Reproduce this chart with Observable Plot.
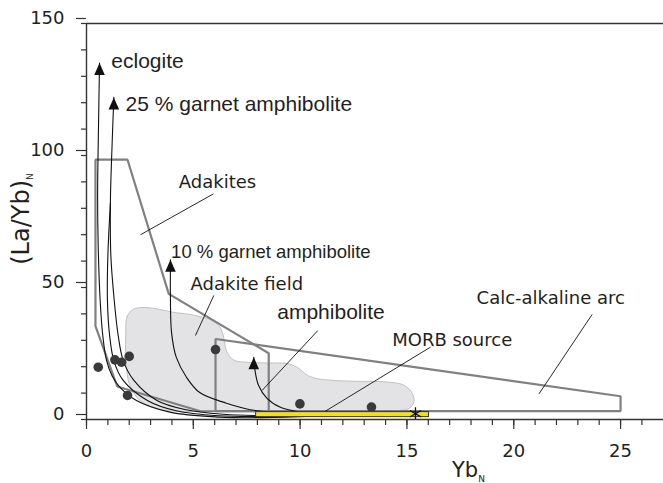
<!DOCTYPE html>
<html><head><meta charset="utf-8">
<script src="https://cdn.jsdelivr.net/npm/d3@7"></script>
<script src="https://cdn.jsdelivr.net/npm/@observablehq/plot@0.6"></script>
<style>body{margin:0;background:#fff} svg{display:block}</style>
</head><body><div id="chart"></div>
<script>
// ---- tick values ----
const xMinorTicks = d3.range(0, 27);
const xMajorTicks = [0, 5, 10, 15, 20, 25];
const yMinorTicks = d3.range(0, 151, 10);
const yMajorTicks = [0, 50, 100, 150];

// ---- regions (YbN, (La/Yb)N) ----
const adakites = [[0.42,98.4],[1.92,98.4],[3.85,47.6],[8.53,25.1],[8.53,3.1],[5.3,3.2],[1.44,12.5],[0.42,35.4]];
const calcAlkaline = [[6.04,30.5],[25,8.8],[25,3.2],[6.04,3.2]];
const adakiteField = [[1.84,33],[1.9,39],[2.2,41.8],[2.7,42.4],[3.3,41.9],[4.06,40.6],[4.68,40],[5.3,39],[5.8,37.8],
  [6.2,35.5],[6.4,32],[6.5,27.4],[6.67,24.2],[6.95,22.3],[7.5,21.7],[8.46,21.4],[9.4,21.2],[9.86,19.8],
  [10.33,16.8],[10.8,15.5],[11.4,14.9],[12.4,14.5],[14.08,14.2],[14.86,13],[15.25,9.9],[15.33,6.6],[15.1,4.2],
  [14.4,3.3],[10,3.1],[6,3.1],[3.9,3.3],[3.1,4.6],[2.5,7.2],[2.05,12.5],[1.86,20]];

// ---- melting curves ----
const eclogite = [[0.61,135],[0.56,110],[0.52,85],[0.55,65],[0.64,45],[0.76,32],[0.94,22.3],[1.2,16.5],[1.56,12.3],[2.34,7.2],[3.9,2.8],[6.24,0.9],[8,0.7],[11,1.3],[15.4,2.2]];
const garnet25 = [[1.28,122],[1.18,100],[1.12,83],[1.14,62],[1.3,45],[1.48,32],[1.72,22.3],[2.2,15],[3.3,7.2],[4.6,3.8],[6.4,2],[8,1.5],[11,1.8],[15.4,2.2]];
const branch = [[1.12,82],[1.0,62],[0.98,45],[1.08,32],[1.28,22.3],[1.7,15],[2.85,7.2],[4.2,3.3],[6.2,1.4],[8,1.1],[11,1.5],[15.4,2.2]];
const garnet10 = [[3.93,60.5],[3.93,45],[3.98,33],[4.2,23.6],[4.68,16],[5.3,10.2],[6.5,6.3],[7.9,3.4],[11,2.3],[15.4,2.2]];
const amphibolite = [[7.83,23.6],[7.88,19],[8.05,13],[8.45,8],[9.1,4.5],[9.9,3],[11,2.4],[15.4,2.2]];
const curves = [eclogite, garnet25, branch, garnet10, amphibolite];
const arrowTips = [eclogite[0], garnet25[0], garnet10[0], amphibolite[0]];

// ---- samples ----
const sampleX = [0.55,1.33,1.64,2.0,1.92,6.04,9.99,13.34];
const sampleY = [19.8,22.6,21.7,23.9,9.1,26.5,5.9,4.7];

// ---- MORB source ----
const morbBar = {x1: [7.94], x2: [16.03], y1: [0.9], y2: [2.8]};
const morbPoint = [[15.4, 2.2]];

// ---- labels ----
const curveLabels = ["eclogite", "25 % garnet amphibolite", "10 % garnet amphibolite", "amphibolite"];
const curveLabelX = [1.16, 1.83, 3.96, 8.93];
const curveLabelY = [133, 117, 61.2, 38.1];
const curveLabelSize = [21, 21, 18.5, 21];
const regionLabels = ["Adakites", "Adakite field", "MORB source", "Calc-alkaline arc"];
const regionLabelX = [4.32, 4.87, 14.31, 18.26];
const regionLabelY = [87.7, 49.2, 28, 43.8];
const leaderX1 = [5.95, 5.96, 10.83, 16.1, 23.67];
const leaderY1 = [85.5, 47, 33.7, 27.4, 39.8];
const leaderX2 = [2.53, 5.1, 8.22, 10.98, 21.18];
const leaderY2 = [70, 31.8, 11, 2.15, 9.7];

const arrowSymbol = {draw(ctx) { ctx.moveTo(0, 0); ctx.lineTo(5.3, 12); ctx.lineTo(-5.3, 12); ctx.closePath(); }};
const curveRows = curves.flatMap((c, i) => c.map(([x, y]) => ({x, y, k: i})));
const ink = "#231f20";
const gray = "#808080";

const chart = Plot.plot({
  width: 663, height: 483,
  marginLeft: 86, marginRight: 0, marginTop: 23, marginBottom: 64,
  x: {domain: [0, 27.01]},
  y: {domain: [0, 150]},
  style: {fontFamily: "DejaVu Sans, sans-serif", color: ink, background: "#fff"},
  marks: [
    Plot.line(adakiteField, {x: d => d[0], y: d => d[1], curve: "catmull-rom-closed", fill: "#e3e3e5", stroke: "#b5b5b5", strokeWidth: 0.8}),
    Plot.line(adakites, {x: d => d[0], y: d => d[1], curve: "linear-closed", stroke: gray, strokeWidth: 2.2, strokeLinejoin: "miter"}),
    Plot.line(calcAlkaline, {x: d => d[0], y: d => d[1], curve: "linear-closed", stroke: gray, strokeWidth: 2.2, strokeLinejoin: "miter"}),
    Plot.line(curveRows, {x: "x", y: "y", z: "k", curve: "catmull-rom", stroke: "#111", strokeWidth: 1.1}),
    Plot.link(leaderX1, {x1: (d, i) => leaderX1[i], y1: (d, i) => leaderY1[i], x2: (d, i) => leaderX2[i], y2: (d, i) => leaderY2[i], stroke: "#111", strokeWidth: 0.9}),
    Plot.dot(sampleX, {x: (d, i) => sampleX[i], y: (d, i) => sampleY[i], r: 4.8, fill: "#3a3a3a", stroke: "none"}),
    Plot.rect([0], {x1: morbBar.x1, x2: morbBar.x2, y1: morbBar.y1, y2: morbBar.y2, fill: "#f5e400", stroke: "#333", strokeWidth: 1}),
    Plot.dot(morbPoint, {x: d => d[0], y: d => d[1], symbol: "asterisk", r: 6, stroke: "#111", strokeWidth: 1.3}),
    Plot.dot(arrowTips, {x: d => d[0], y: d => d[1], symbol: arrowSymbol, fill: "#111", stroke: "none"}),
    Plot.text(curveLabels, {x: (d, i) => curveLabelX[i], y: (d, i) => curveLabelY[i], text: d => d, fontSize: (d, i) => curveLabelSize[i], textAnchor: "start", lineAnchor: "bottom", fontFamily: "Liberation Sans", fill: ink}),
    Plot.text(regionLabels, {x: (d, i) => regionLabelX[i], y: (d, i) => regionLabelY[i], text: d => d, textAnchor: "start", lineAnchor: "bottom", fontSize: 18, fill: ink}),
    Plot.ruleX([0], {stroke: "#333", strokeWidth: 1.4}),
    Plot.ruleY([0, 150], {stroke: "#333", strokeWidth: 1.4}),
    Plot.axisY(yMinorTicks, {tickSize: 5, tickFormat: () => "", stroke: "#333", strokeWidth: 1.2, label: null}),
    Plot.axisY(yMajorTicks, {tickSize: 10, tickPadding: 12, fontSize: 18, dy: -5, stroke: "#333", strokeWidth: 1.2, fill: ink, label: null}),
    Plot.axisX(xMinorTicks, {tickSize: 6, tickFormat: () => "", stroke: "#333", strokeWidth: 1.2, label: null}),
    Plot.axisX(xMajorTicks, {tickSize: 10, tickPadding: 15, fontSize: 18, stroke: "#333", strokeWidth: 1.2, fill: ink, label: null}),
    Plot.text(["(La/Yb)"], {frameAnchor: "left", textAnchor: "middle", lineAnchor: "middle", rotate: -90, dx: -65, dy: -2.5, fontSize: 24, fill: ink}),
    Plot.text(["Yb"], {frameAnchor: "bottom", textAnchor: "middle", dx: 468 - (86 + 663) / 2, dy: 57.7, lineAnchor: "bottom", fontSize: 21, fill: ink})
  ]
});
// subscripts "N" appended to the axis titles as tspans
d3.select(chart).selectAll("text").each(function () {
  const t = this.textContent;
  if (t === "(La/Yb)" || t === "Yb") {
    d3.select(this).append("tspan").attr("font-size", 9).attr("dy", t === "Yb" ? 5 : 4).text("N");
  }
});
document.getElementById("chart").append(chart);
</script>
</body></html>
